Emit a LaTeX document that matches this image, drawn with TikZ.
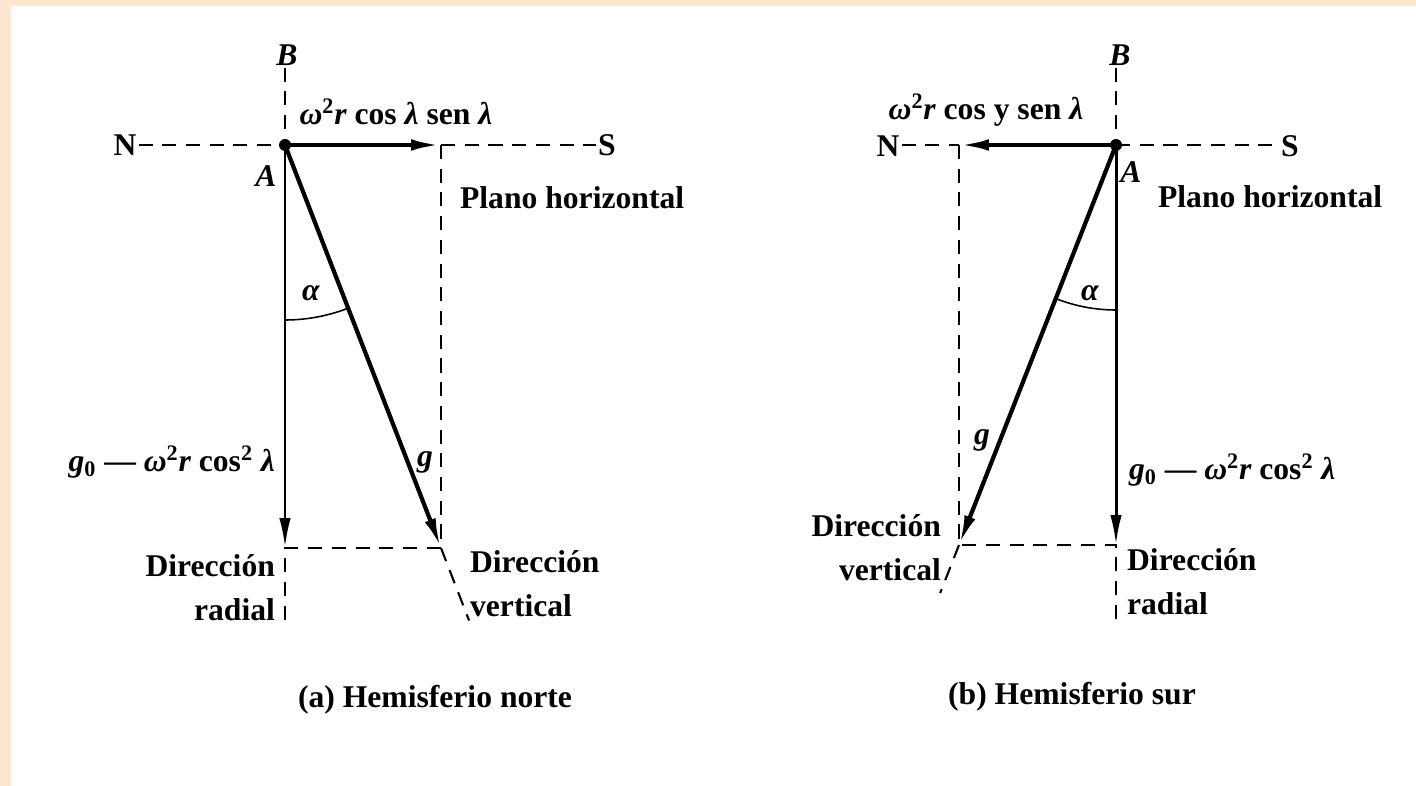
\documentclass[tikz,border=0pt]{standalone}
\usepackage{fontspec}
\setmainfont{Liberation Serif}
\usetikzlibrary{arrows.meta,calc}
\definecolor{peach}{RGB}{255,230,206}

\begin{document}
\begin{tikzpicture}[x=0.02cm, y=-0.02cm,
  vec/.style={line width=2.4pt, -{Latex[length=17pt,width=6.5pt]}},
  radvec/.style={line width=1.7pt, -{Latex[length=17pt,width=6.5pt]}},
  guide/.style={line width=1.2pt, dash pattern=on 8pt off 5.5pt},
  lbl/.style={font=\fontsize{18}{25}\selectfont\bfseries, inner sep=1pt}]

\useasboundingbox (0,0) rectangle (1416,786);

% Page frame
\fill[peach] (0,0) rectangle (1416,786);
\fill[white] (11,6) rectangle (1416,786);

% (a) Hemisferio norte
\coordinate (aA) at (285,145);
\coordinate (aH) at (441,145);
\coordinate (aR) at (285,548);
\coordinate (aG) at (441,548);
\coordinate (aRe) at (285,628);

\node[lbl] (aN) at (125,145) {N};
\node[lbl] (aS) at (607,145) {S};
\node[lbl] (aB) at (287,55) {\textit{B}};
\node[lbl] (aAl) at (266,176) {\textit{A}};
\node[lbl] (aF) at (396,112) {{\itshape ω}\textsuperscript{2}{\itshape r} cos {\itshape λ} sen {\itshape λ}};
\node[lbl, anchor=west] (aP) at (458,198) {Plano horizontal};
\node[lbl, anchor=east] (aRl) at (277,462) {{\itshape g}\textsubscript{0} — {\itshape ω}\textsuperscript{2}{\itshape r} cos\textsuperscript{2} {\itshape λ}};
\node[lbl] (aGl) at (425,462) {\textit{g}};
\node[lbl, anchor=east, align=right] (aDr) at (277,588) {Dirección\\radial};
\node[lbl, anchor=west, align=left] (aDv) at (468,584) {Dirección\\vertical};
\node[lbl] (aC) at (435,700) {(a) Hemisferio norte};

\draw[guide] (aN.east |- aA) -- (aA);
\draw[guide] (aH) -- (aS.west |- aA);
\draw[guide] (aB.south -| aA) -- (aA);
\draw[guide] (aH) -- (aG) -- (aR) -- (aRe);
\draw[guide] (aG) -- ($(aA)!1.18!(aG)$);

\draw[radvec] (aA) -- (aR);
\draw[vec] (aA) -- (aH);
\draw[vec] (aA) -- (aG);
\fill (aA) circle (6);

% angle alpha
\draw[line width=0.9pt] ($(aA)+(90:175)$) arc[start angle=90, end angle=68.8, radius=175];
\node[lbl] (aAl2) at ($(aA)+(80:150)$) {\textit{α}};

% (b) Hemisferio sur
\coordinate (bA) at (1116,145);
\coordinate (bH) at (959,145);
\coordinate (bR) at (1116,545);
\coordinate (bG) at (959,545);
\coordinate (bRe) at (1116,622);

\node[lbl] (bN) at (888,146) {N};
\node[lbl] (bS) at (1290,146) {S};
\node[lbl] (bB) at (1120,55) {\textit{B}};
\node[lbl] (bAl) at (1131,172) {\textit{A}};
\node[lbl] (bF) at (986,110) {{\itshape ω}\textsuperscript{2}{\itshape r} cos y sen {\itshape λ}};
\node[lbl, anchor=west] (bP) at (1156,197) {Plano horizontal};
\node[lbl, anchor=west] (bRl) at (1127,470) {{\itshape g}\textsubscript{0} — {\itshape ω}\textsuperscript{2}{\itshape r} cos\textsuperscript{2} {\itshape λ}};
\node[lbl] (bGl) at (982,440) {\textit{g}};
\node[lbl, anchor=east, align=right] (bDv) at (943,548) {Dirección\\vertical};
\node[lbl, anchor=west, align=left] (bDr) at (1125,582) {Dirección\\radial};
\node[lbl] (bC) at (1072,697) {(b) Hemisferio sur};

\draw[guide] (bN.east |- bA) -- (bH);
\draw[guide] (bA) -- (bS.west |- bA);
\draw[guide] (bB.south -| bA) -- (bA);
\draw[guide] (bH) -- (bG) -- (bR) -- (bRe);
\draw[guide] (bG) -- ($(bA)!1.12!(bG)$);

\draw[radvec] (bA) -- (bR);
\draw[vec] (bA) -- (bH);
\draw[vec] (bA) -- (bG);
\fill (bA) circle (6);

% angle alpha
\draw[line width=0.9pt] ($(bA)+(90:165)$) arc[start angle=90, end angle=111.5, radius=165];
\node[lbl] (bAl2) at ($(bA)+(100:150)$) {\textit{α}};

\end{tikzpicture}
\end{document}
